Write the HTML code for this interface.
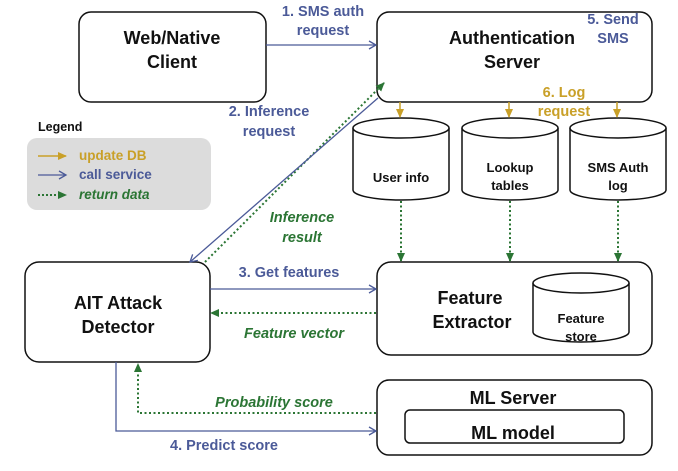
<!DOCTYPE html>
<html><head><style>
html,body{margin:0;padding:0;background:#fff;}
svg{display:block;font-family:"Liberation Sans",Arial,sans-serif;}
.t{font-weight:bold;font-size:18px;fill:#111;text-anchor:middle;}
.c{font-weight:bold;font-size:13px;fill:#111;text-anchor:middle;}
.b{font-weight:bold;font-size:14.5px;fill:#4b5a98;text-anchor:middle;}
.g{font-weight:bold;font-size:14.5px;fill:#c9a028;text-anchor:middle;}
.gr{font-weight:bold;font-style:italic;font-size:14.5px;fill:#2b7534;text-anchor:middle;}
</style></head><body>
<svg width="678" height="471" viewBox="0 0 678 471" xmlns="http://www.w3.org/2000/svg">
<defs>
<marker id="ab" markerWidth="10" markerHeight="10" refX="8" refY="5" orient="auto" markerUnits="userSpaceOnUse"><path d="M1,1 L8,5 L1,9" fill="none" stroke="#4b5a98" stroke-width="1.3"/></marker>
<marker id="ag" markerWidth="10" markerHeight="10" refX="8" refY="5" orient="auto" markerUnits="userSpaceOnUse"><path d="M0,1 L9,5 L0,9z" fill="#c9a028"/></marker>
<marker id="agr" markerWidth="10" markerHeight="10" refX="8" refY="5" orient="auto" markerUnits="userSpaceOnUse"><path d="M0,1 L9,5 L0,9z" fill="#2b7534"/></marker>
</defs>
<g fill="#fff" stroke="#111" stroke-width="1.5">
<rect x="79" y="12" width="187" height="90" rx="12"/>
<rect x="377" y="12" width="275" height="90" rx="12"/>
<rect x="25" y="262" width="185" height="100" rx="14"/>
<rect x="377" y="262" width="275" height="93" rx="14"/>
<rect x="377" y="380" width="275" height="75" rx="12"/>
<rect x="405" y="410" width="219" height="33" rx="5"/>
</g>
<rect x="27" y="138" width="184" height="72" rx="10" fill="#dcdcdc"/>
<text x="38" y="131" font-weight="bold" font-size="12.5" fill="#111">Legend</text>
<line x1="38" y1="156" x2="66" y2="156" stroke="#c9a028" stroke-width="1.5" marker-end="url(#ag)"/>
<text x="79" y="160" font-weight="bold" font-size="13.5" fill="#c9a028">update DB</text>
<line x1="38" y1="175" x2="66" y2="175" stroke="#4b5a98" stroke-width="1.3" marker-end="url(#ab)"/>
<text x="79" y="179" font-weight="bold" font-size="13.5" fill="#4b5a98">call service</text>
<line x1="38" y1="195" x2="66" y2="195" stroke="#2b7534" stroke-width="2" stroke-dasharray="2,2" marker-end="url(#agr)"/>
<text x="79" y="199" font-weight="bold" font-style="italic" font-size="13.5" fill="#2b7534">return data</text>
<!-- cylinders -->
<g fill="#fff" stroke="#111" stroke-width="1.5">
<path d="M353,128 V190 A48,10 0 0 0 449,190 V128"/><ellipse cx="401" cy="128" rx="48" ry="10"/>
<path d="M462,128 V190 A48,10 0 0 0 558,190 V128"/><ellipse cx="510" cy="128" rx="48" ry="10"/>
<path d="M570,128 V190 A48,10 0 0 0 666,190 V128"/><ellipse cx="618" cy="128" rx="48" ry="10"/>
<path d="M533,283 V332 A48,10 0 0 0 629,332 V283"/><ellipse cx="581" cy="283" rx="48" ry="10"/>
</g>
<text class="t" x="172" y="44">Web/Native</text><text class="t" x="172" y="68">Client</text>
<text class="t" x="512" y="44">Authentication</text><text class="t" x="512" y="68">Server</text>
<text class="t" x="118" y="309">AIT Attack</text><text class="t" x="118" y="333">Detector</text>
<text class="t" x="470" y="304">Feature</text><text class="t" x="472" y="328">Extractor</text>
<text class="t" x="513" y="404">ML Server</text>
<text class="t" x="513" y="439">ML model</text>
<text class="c" x="401" y="182">User info</text>
<text class="c" x="510" y="172">Lookup</text><text class="c" x="510" y="190">tables</text>
<text class="c" x="618" y="172">SMS Auth</text><text class="c" x="618" y="190">log</text>
<text class="c" x="581" y="323">Feature</text><text class="c" x="581" y="341">store</text>
<!-- connectors -->
<line x1="266" y1="45" x2="376" y2="45" stroke="#4b5a98" stroke-width="1.3" marker-end="url(#ab)"/>
<g stroke="#c9a028" stroke-width="1.5">
<line x1="400" y1="102" x2="400" y2="117" marker-end="url(#ag)"/>
<line x1="509" y1="102" x2="509" y2="117" marker-end="url(#ag)"/>
<line x1="617" y1="102" x2="617" y2="117" marker-end="url(#ag)"/>
</g>
<g stroke="#2b7534" stroke-width="2" stroke-dasharray="2,2.5" fill="none">
<line x1="401" y1="201" x2="401" y2="261" marker-end="url(#agr)"/>
<line x1="510" y1="201" x2="510" y2="261" marker-end="url(#agr)"/>
<line x1="618" y1="201" x2="618" y2="261" marker-end="url(#agr)"/>
<line x1="205" y1="262" x2="384" y2="83" marker-end="url(#agr)"/>
<line x1="376" y1="313" x2="211" y2="313" marker-end="url(#agr)"/>
<polyline points="376,413 138,413 138,364" marker-end="url(#agr)"/>
</g>
<g stroke="#4b5a98" stroke-width="1.3" fill="none">
<line x1="378" y1="98" x2="190" y2="262" marker-end="url(#ab)"/>
<line x1="210" y1="289" x2="376" y2="289" marker-end="url(#ab)"/>
<polyline points="116,362 116,431 376,431" marker-end="url(#ab)"/>
</g>
<text class="b" x="323" y="16">1. SMS auth</text><text class="b" x="323" y="35">request</text>
<text class="b" x="613" y="24">5. Send</text><text class="b" x="613" y="43">SMS</text>
<text class="g" x="564" y="97">6. Log</text><text class="g" x="564" y="116">request</text>
<text class="b" x="269" y="116">2. Inference</text><text class="b" x="269" y="136">request</text>
<text class="gr" x="302" y="222">Inference</text><text class="gr" x="302" y="242">result</text>
<text class="b" x="289" y="277">3. Get features</text>
<text class="gr" x="294" y="338">Feature vector</text>
<text class="gr" x="274" y="407">Probability score</text>
<text class="b" x="224" y="450">4. Predict score</text>
</svg>
</body></html>
